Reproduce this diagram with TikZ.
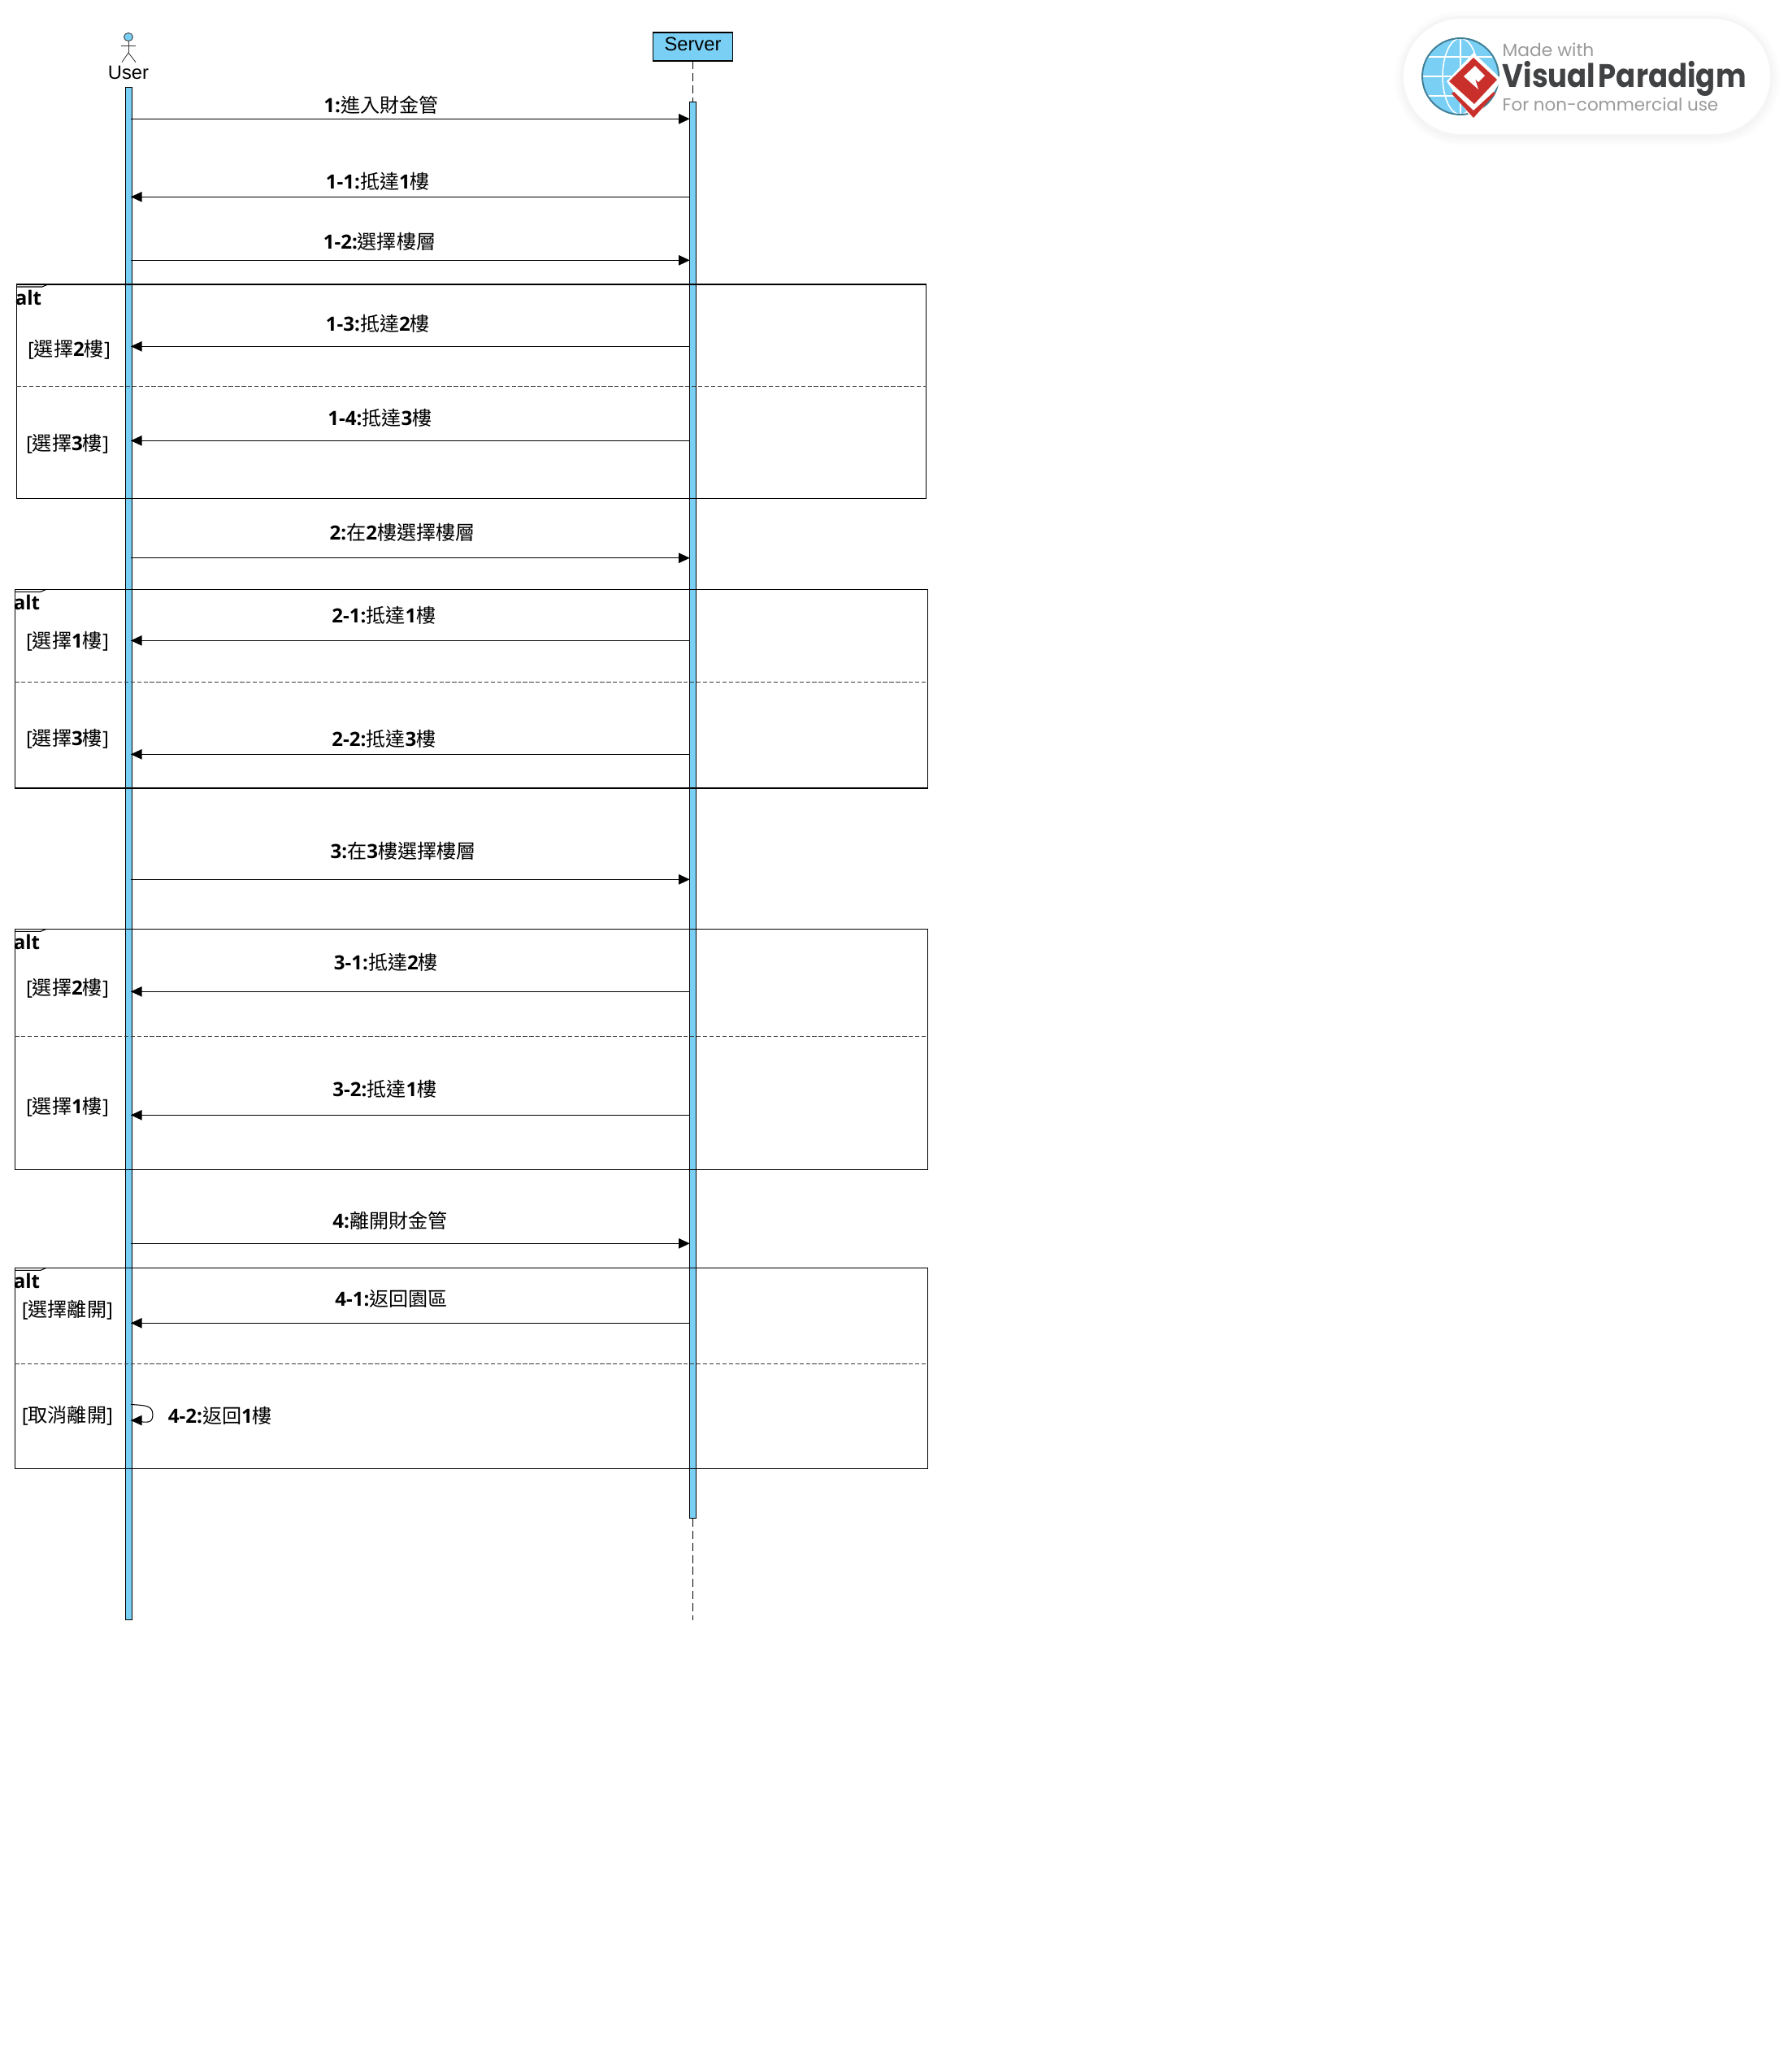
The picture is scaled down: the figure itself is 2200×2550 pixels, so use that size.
\documentclass[tikz,border=0pt]{standalone}
\usepackage{fontspec}
\setmainfont{Open Sans}
\newfontfamily\cjk{Noto Sans CJK TC}
\newfontfamily\umlfont{Liberation Sans}
\newfontfamily\vpfont{Poppins}
\newfontfamily\vpnamefont{Poppins}[FakeStretch=0.885]
\newcommand{\zh}[1]{{\cjk #1}}
\definecolor{barblue}{HTML}{7ACFF5}
\definecolor{framegray}{HTML}{3A3A3A}
\definecolor{vpgray}{HTML}{9A9A9A}
\definecolor{vpdark}{HTML}{414244}
\definecolor{vpred}{HTML}{C9302C}
\definecolor{vpteal}{HTML}{3F7F95}
\tikzset{
  msglabel/.style={font=\fontsize{6.85}{8}\selectfont},
  altlabel/.style={font=\fontsize{6.85}{8}\selectfont\bfseries},
  umllabel/.style={font=\umlfont\fontsize{6.75}{8}\selectfont},
  bar/.style={draw=black, line width=0.3pt, fill=barblue, minimum width=0.08cm},
  frameline/.style={draw=black, line width=0.3pt},
  guardline/.style={draw=framegray, line width=0.28pt, dash pattern=on 1.5pt off 0.75pt},
  lifeline/.style={draw=black, line width=0.25pt, dash pattern=on 2.8pt off 1.4pt}
}
\begin{document}
\begin{tikzpicture}[x=0.01cm,y=0.01cm]
\tikzstyle{every node}+=[inner sep=0pt]
\useasboundingbox (0,0) rectangle (2200,-2550);
% actor
\draw [draw=framegray, line width=0.25pt, fill=barblue] (158,-45.5) ellipse (5.5 and 5);
\draw [draw=framegray, line width=0.25pt] (158,-50.5) -- (158,-65);
\draw [draw=framegray, line width=0.25pt] (149,-56.7) -- (167,-56.7);
\draw [draw=framegray, line width=0.25pt] (150,-76.5) -- (158,-65) -- (167,-76.5);
\node (usertext) [umllabel] at (158,-89) {User};
% server
\node (serverbox) [draw=black, line width=0.3pt, fill=barblue, minimum width=0.98cm, minimum height=0.35cm] at (852.5,-57.5) {};
\node (servertext) [umllabel] at (852.5,-54) {Server};
% bars
\node (userbar) [bar, minimum height=18.85cm] at (158.3,-1050.8) {};
\node (serverbar) [bar, minimum height=17.42cm] at (852.7,-997.3) {};
\coordinate (serverend) at (852.7,-1994);
\draw [lifeline] (serverbox.south -| serverbar) -- (serverbar.north);
\draw [lifeline] (serverbar.south) -- (serverend);
% frame 1
\draw [frameline] (20.3,-350) rectangle (1139.5,-613.3);
\draw [frameline] (20.3,-353) -- (52,-353) -- (59,-350);
\draw [guardline] (20.3,-475) -- (1139.5,-475);
\node (altA) [altlabel] at (35,-366) {alt};
\node (grdA) [msglabel] at (85,-430) {[\zh{選擇}\textbf{2}\zh{樓}]};
\node (grdB) [msglabel] at (83,-546.7) {[\zh{選擇}\textbf{3}\zh{樓}]};
% frame 2
\draw [frameline] (18.3,-725.3) rectangle (1141.7,-970);
\draw [frameline] (18.3,-728.3) -- (50,-728.3) -- (57,-725.3);
\draw [guardline] (18.3,-839.3) -- (1141.7,-839.3);
\node (altB) [altlabel] at (33,-741) {alt};
\node (grdC) [msglabel] at (83,-789.3) {[\zh{選擇}\textbf{1}\zh{樓}]};
\node (grdD) [msglabel] at (83,-909.3) {[\zh{選擇}\textbf{3}\zh{樓}]};
% frame 3
\draw [frameline] (18.3,-1143.3) rectangle (1141.7,-1439.3);
\draw [frameline] (18.3,-1146.3) -- (50,-1146.3) -- (57,-1143.3);
\draw [guardline] (18.3,-1275.3) -- (1141.7,-1275.3);
\node (altC) [altlabel] at (33,-1159) {alt};
\node (grdE) [msglabel] at (83,-1216.7) {[\zh{選擇}\textbf{2}\zh{樓}]};
\node (grdF) [msglabel] at (83,-1362.7) {[\zh{選擇}\textbf{1}\zh{樓}]};
% frame 4
\draw [frameline] (18.3,-1560.3) rectangle (1141.7,-1807.7);
\draw [frameline] (18.3,-1563.3) -- (50,-1563.3) -- (57,-1560.3);
\draw [guardline] (18.3,-1678.3) -- (1141.7,-1678.3);
\node (altD) [altlabel] at (33,-1576) {alt};
\node (grdG) [msglabel] at (83,-1612.3) {[\zh{選擇離開}]};
\node (grdH) [msglabel] at (83,-1742) {[\zh{取消離開}]};
% messages
\coordinate (ua) at (161,-146.3);
\coordinate (sa) at (848.7,-146.3);
\draw [black, line width=0.3pt] (ua) -- (sa);
\fill [black] (sa) -- ++(-13.7,6.4) -- ++(0,-12.8);
\node (msga) [msglabel] at (469,-129) {\textbf{1:}\zh{進入財金管}};
\coordinate (ub) at (161,-242.3);
\coordinate (sb) at (848.7,-242.3);
\draw [black, line width=0.3pt] (sb) -- (ub);
\fill [black] (ub) -- ++(13.7,6.4) -- ++(0,-12.8);
\node (msgb) [msglabel] at (465,-223) {\textbf{1-1:}\zh{抵達}\textbf{1}\zh{樓}};
\coordinate (uc) at (161,-320.3);
\coordinate (sc) at (848.7,-320.3);
\draw [black, line width=0.3pt] (uc) -- (sc);
\fill [black] (sc) -- ++(-13.7,6.4) -- ++(0,-12.8);
\node (msgc) [msglabel] at (467,-297) {\textbf{1-2:}\zh{選擇樓層}};
\coordinate (ud) at (161,-426.3);
\coordinate (sd) at (848.7,-426.3);
\draw [black, line width=0.3pt] (sd) -- (ud);
\fill [black] (ud) -- ++(13.7,6.4) -- ++(0,-12.8);
\node (msgd) [msglabel] at (465,-398) {\textbf{1-3:}\zh{抵達}\textbf{2}\zh{樓}};
\coordinate (ue) at (161,-542.3);
\coordinate (se) at (848.7,-542.3);
\draw [black, line width=0.3pt] (se) -- (ue);
\fill [black] (ue) -- ++(13.7,6.4) -- ++(0,-12.8);
\node (msge) [msglabel] at (467.5,-514.7) {\textbf{1-4:}\zh{抵達}\textbf{3}\zh{樓}};
\coordinate (uf) at (161,-686.7);
\coordinate (sf) at (848.7,-686.7);
\draw [black, line width=0.3pt] (uf) -- (sf);
\fill [black] (sf) -- ++(-13.7,6.4) -- ++(0,-12.8);
\node (msgf) [msglabel] at (495,-655) {\textbf{2:}\zh{在}\textbf{2}\zh{樓選擇樓層}};
\coordinate (ug) at (161,-788.3);
\coordinate (sg) at (848.7,-788.3);
\draw [black, line width=0.3pt] (sg) -- (ug);
\fill [black] (ug) -- ++(13.7,6.4) -- ++(0,-12.8);
\node (msgg) [msglabel] at (472.5,-757.3) {\textbf{2-1:}\zh{抵達}\textbf{1}\zh{樓}};
\coordinate (uh) at (161,-928.3);
\coordinate (sh) at (848.7,-928.3);
\draw [black, line width=0.3pt] (sh) -- (uh);
\fill [black] (uh) -- ++(13.7,6.4) -- ++(0,-12.8);
\node (msgh) [msglabel] at (472.5,-909.3) {\textbf{2-2:}\zh{抵達}\textbf{3}\zh{樓}};
\coordinate (ui) at (161,-1082.3);
\coordinate (si) at (848.7,-1082.3);
\draw [black, line width=0.3pt] (ui) -- (si);
\fill [black] (si) -- ++(-13.7,6.4) -- ++(0,-12.8);
\node (msgi) [msglabel] at (496,-1047.3) {\textbf{3:}\zh{在}\textbf{3}\zh{樓選擇樓層}};
\coordinate (uj) at (161,-1220.3);
\coordinate (sj) at (848.7,-1220.3);
\draw [black, line width=0.3pt] (sj) -- (uj);
\fill [black] (uj) -- ++(13.7,6.4) -- ++(0,-12.8);
\node (msgj) [msglabel] at (475,-1184.3) {\textbf{3-1:}\zh{抵達}\textbf{2}\zh{樓}};
\coordinate (uk) at (161,-1372.3);
\coordinate (sk) at (848.7,-1372.3);
\draw [black, line width=0.3pt] (sk) -- (uk);
\fill [black] (uk) -- ++(13.7,6.4) -- ++(0,-12.8);
\node (msgk) [msglabel] at (473.5,-1340) {\textbf{3-2:}\zh{抵達}\textbf{1}\zh{樓}};
\coordinate (ul) at (161,-1530.3);
\coordinate (sl) at (848.7,-1530.3);
\draw [black, line width=0.3pt] (ul) -- (sl);
\fill [black] (sl) -- ++(-13.7,6.4) -- ++(0,-12.8);
\node (msgl) [msglabel] at (480,-1502) {\textbf{4:}\zh{離開財金管}};
\coordinate (um) at (161,-1628.3);
\coordinate (sm) at (848.7,-1628.3);
\draw [black, line width=0.3pt] (sm) -- (um);
\fill [black] (um) -- ++(13.7,6.4) -- ++(0,-12.8);
\node (msgm) [msglabel] at (481.5,-1598.3) {\textbf{4-1:}\zh{返回園區}};
\coordinate (un) at (161,-1728.3);
\coordinate (uo) at (161,-1748);
\draw [black, line width=0.3pt] (un) .. controls (175,-1730) and (188,-1728) .. (188,-1741) .. controls (188,-1754) and (178,-1750) .. (uo);
\fill [black] (uo) -- ++(13.7,6.4) -- ++(0,-12.8);
\node (msgn) [msglabel] at (271,-1742) {\textbf{4-2:}\zh{返回}\textbf{1}\zh{樓}};
% logo
\fill [black, opacity=0.012, rounded corners=0.82cm] (1716,-14) rectangle (2190,-178);
\fill [black, opacity=0.012, rounded corners=0.78cm] (1720,-18) rectangle (2186,-175);
\fill [black, opacity=0.015, rounded corners=0.75cm] (1723,-20) rectangle (2182,-171);
\fill [white, rounded corners=0.71cm] (1727,-23) rectangle (2178,-165);
\fill [barblue] (1797,-94) circle (47);
\draw [white, line width=0.45pt] (1797,-94) ellipse (22 and 47);
\draw [white, line width=0.45pt] (1797,-47) -- (1797,-141);
\draw [white, line width=0.45pt] (1750,-94) -- (1844,-94);
\draw [white, line width=0.45pt] (1757,-70) -- (1837,-70);
\draw [white, line width=0.45pt] (1757,-118) -- (1837,-118);
\draw [vpteal, line width=0.55pt] (1797,-94) circle (47);
\fill [white] (1780,-100) -- (1813,-65) -- (1848,-98) -- (1813,-150) -- cycle;
\fill [vpred] (1786,-115) -- (1813,-145) -- (1840,-115) -- (1838,-113) -- (1813,-136) -- (1789,-113) -- cycle;
\fill [vpred] (1783,-100) -- (1813,-71) -- (1842,-98) -- (1814,-128) -- cycle;
\fill [white] (1801,-94) -- (1815,-81) -- (1827,-93) -- (1819,-101) -- (1815,-97) -- (1819,-110) -- cycle;
\node (vpmade) [anchor=west, text=vpgray, font=\vpfont\fontsize{6.2}{8}\selectfont] at (1848,-61) {Made with};
\node (vpname) [anchor=west, text=vpdark, font=\vpnamefont\bfseries\fontsize{11.4}{14}\selectfont] at (1848,-97) {Visual\hspace{1pt}Paradigm};
\node (vpuse) [anchor=west, text=vpgray, font=\vpfont\fontsize{6.1}{8}\selectfont] at (1848,-128) {For non-commercial use};
\end{tikzpicture}
\end{document}
